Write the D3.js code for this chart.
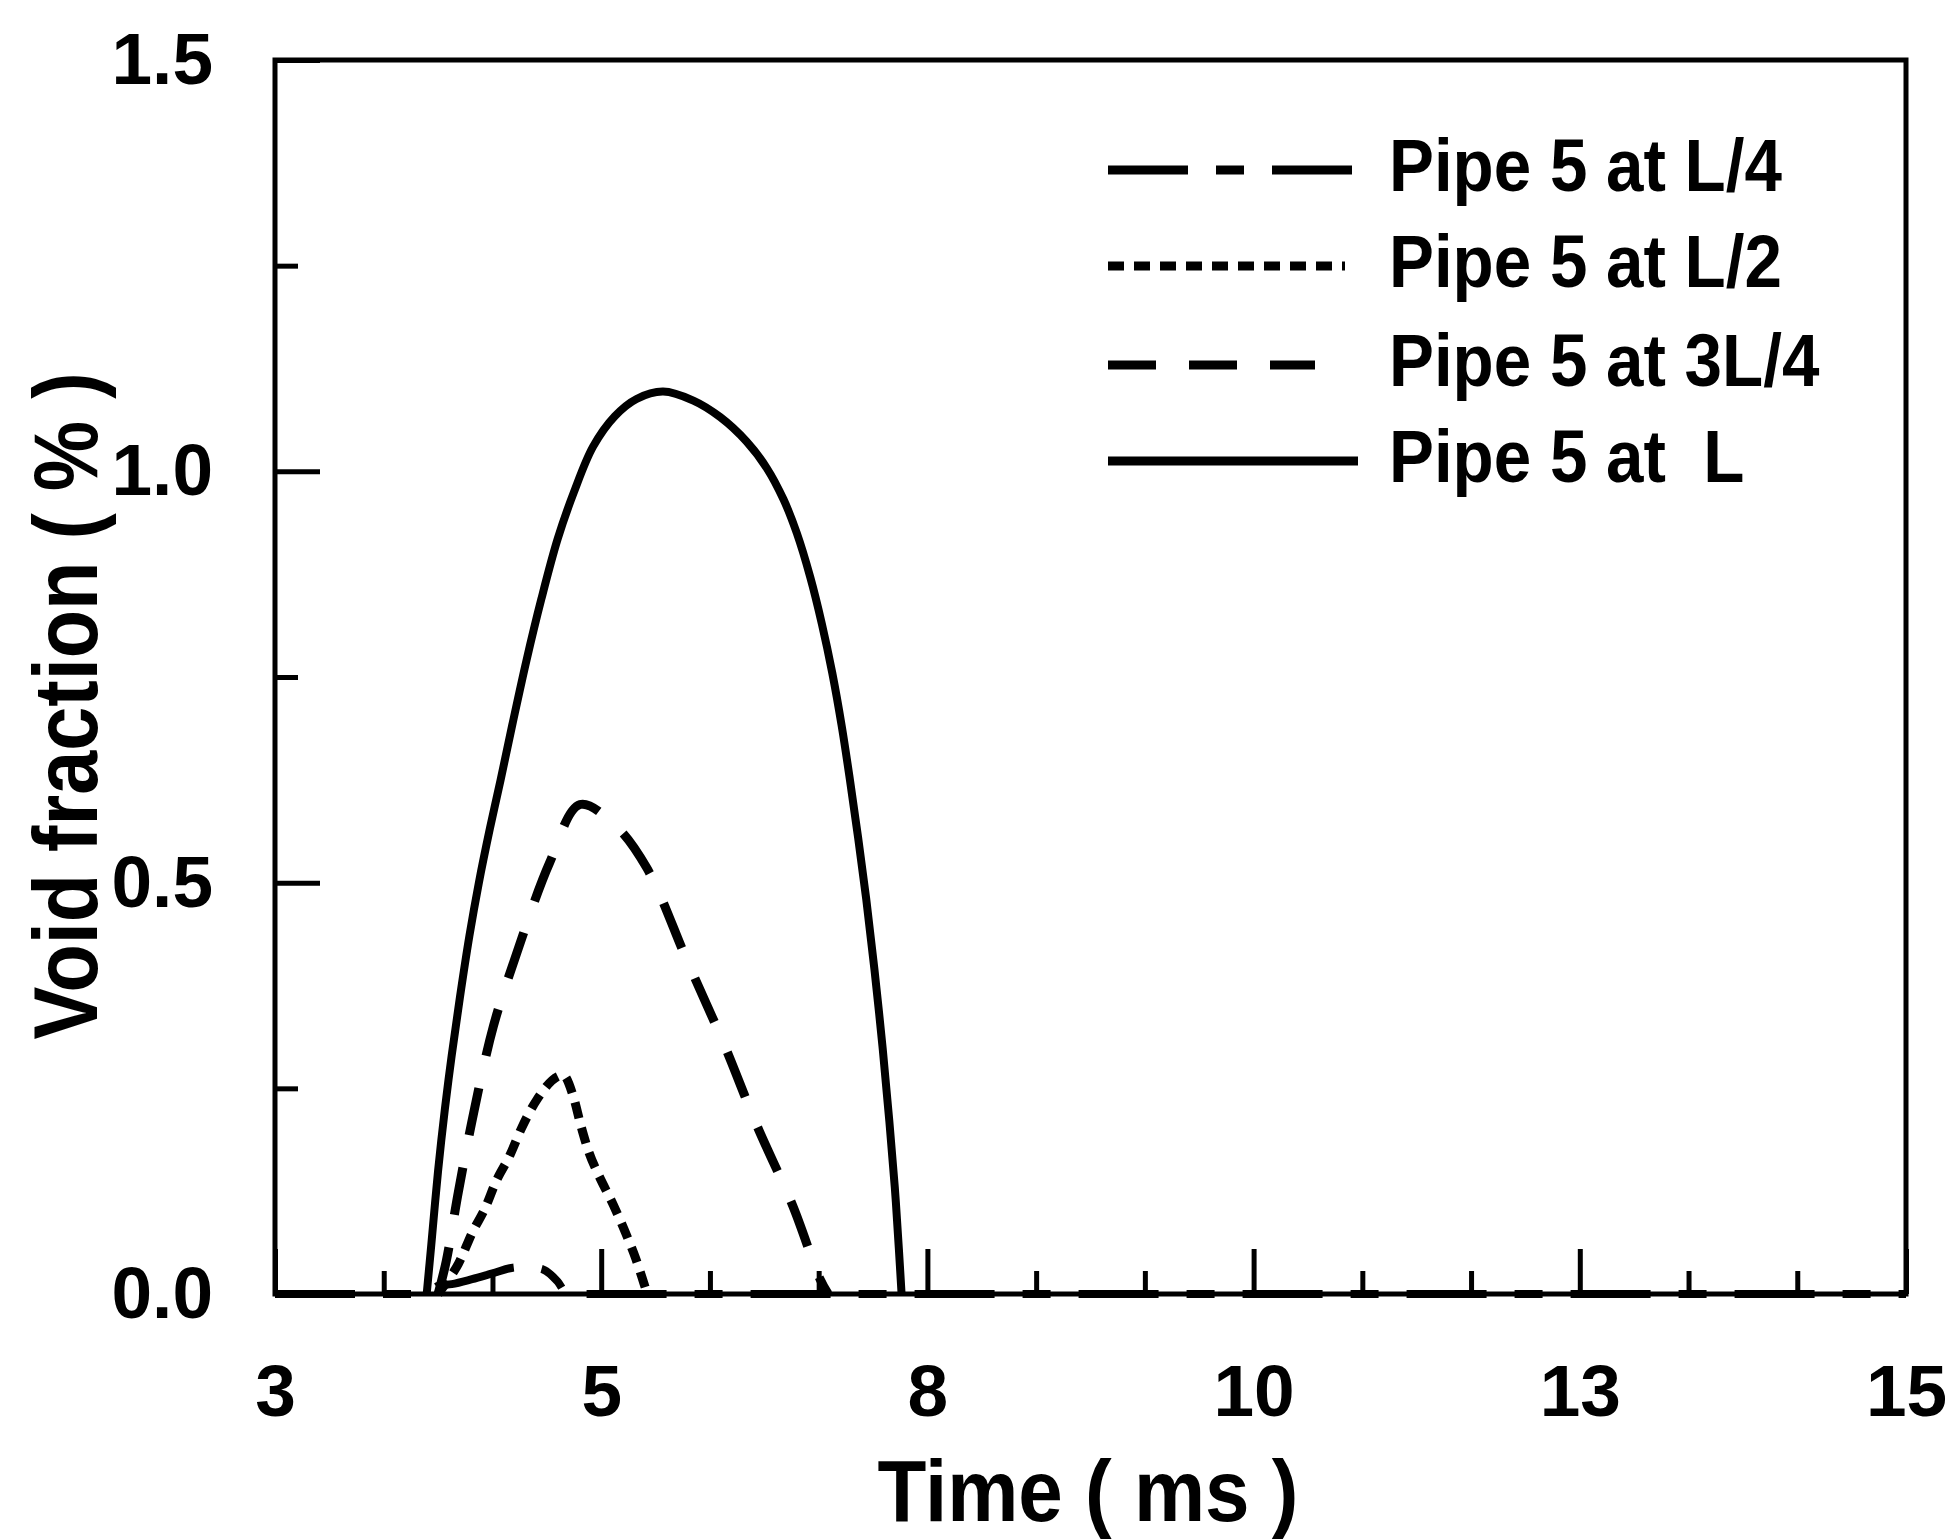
<!DOCTYPE html>
<html>
<head>
<meta charset="utf-8">
<script src="https://cdn.jsdelivr.net/npm/d3@7/dist/d3.min.js"></script>
<style>
  html, body { margin: 0; padding: 0; background: #fff; }
  svg { display: block; }
</style>
</head>
<body>
<svg id="chart" width="1957" height="1540"></svg>
<script>
// ---------------- data ----------------
const seriesNames = ["Pipe 5 at L/4", "Pipe 5 at L/2", "Pipe 5 at 3L/4", "Pipe 5 at  L"];

// [time (ms), void fraction (%)]
const pipeL4 = [
  [3.0, 0], [4.12, 0], [4.2, 0.01], [4.3, 0.012], [4.45, 0.018], [4.6, 0.025],
  [4.75, 0.032], [4.85, 0.033], [4.97, 0.03], [5.08, 0.015], [5.15, 0], [15.0, 0]
];
const pipeL2 = [
  [4.2, 0], [4.27, 0.016], [4.35, 0.037], [4.455, 0.076], [4.545, 0.104], [4.624, 0.136],
  [4.729, 0.169], [4.815, 0.202], [4.926, 0.236], [5.12, 0.266], [5.195, 0.24],
  [5.25, 0.205], [5.31, 0.172], [5.38, 0.145], [5.49, 0.108], [5.59, 0.07],
  [5.65, 0.045], [5.72, 0.01], [5.74, 0]
];
const pipe3L4 = [
  [4.2, 0], [4.26, 0.04], [4.349, 0.124], [4.464, 0.222], [4.606, 0.325], [4.778, 0.414],
  [5.02, 0.524], [5.244, 0.595], [5.5, 0.57], [5.735, 0.518], [6.03, 0.406],
  [6.3, 0.305], [6.545, 0.205], [6.81, 0.107], [7.01, 0.018], [7.07, 0]
];
const pipeL = [
  [4.116, 0], [4.15, 0.06], [4.2, 0.15], [4.25, 0.225], [4.3, 0.29], [4.36, 0.36],
  [4.43, 0.435], [4.5, 0.5], [4.58, 0.565], [4.66, 0.625], [4.75, 0.695],
  [4.85, 0.77], [4.96, 0.845], [5.08, 0.918], [5.2, 0.975], [5.34, 1.03],
  [5.5, 1.067], [5.66, 1.088], [5.855, 1.097], [6.078, 1.086], [6.275, 1.066],
  [6.471, 1.036], [6.618, 1.004], [6.741, 0.966], [6.839, 0.925], [6.937, 0.872],
  [7.023, 0.815], [7.1, 0.755], [7.17, 0.69], [7.23, 0.625], [7.29, 0.555],
  [7.35, 0.48], [7.41, 0.395], [7.47, 0.3], [7.52, 0.21], [7.56, 0.13],
  [7.59, 0.055], [7.61, 0]
];

const xMajorTicks = [3, 5.4, 7.8, 10.2, 12.6, 15];
const xTickLabels = ["3", "5", "8", "10", "13", "15"];
const xMinorTicks = [3.8, 4.6, 6.2, 7.0, 8.6, 9.4, 11.0, 11.8, 13.4, 14.2];
const yMajorTicks = [0, 0.5, 1.0, 1.5];
const yTickLabels = ["0.0", "0.5", "1.0", "1.5"];
const yMinorTicks = [0.25, 0.75, 1.25];

const xTitle = "Time ( ms )";
const yTitle = "Void fraction ( % )";

// ---------------- layout ----------------
const L = 275, R = 1906, T = 60, B = 1294;
const svg = d3.select("#chart");

const x = d3.scaleLinear().domain([3, 15]).range([L, R]);
const y = d3.scaleLinear().domain([0, 1.5]).range([B, T]);

const font = "'Liberation Sans', Arial, Helvetica, sans-serif";

// minor ticks
svg.append("g").attr("transform", `translate(0,${B})`)
  .call(d3.axisBottom(x).tickValues(xMinorTicks).tickSize(-23).tickSizeOuter(0).tickFormat(""))
  .call(g => g.select(".domain").remove())
  .call(g => g.selectAll("line").attr("stroke", "#000").attr("stroke-width", 5));
svg.append("g").attr("transform", `translate(${L},0)`)
  .call(d3.axisLeft(y).tickValues(yMinorTicks).tickSize(-23).tickSizeOuter(0).tickFormat(""))
  .call(g => g.select(".domain").remove())
  .call(g => g.selectAll("line").attr("stroke", "#000").attr("stroke-width", 5));

// major ticks + labels
svg.append("g").attr("transform", `translate(0,${B})`)
  .call(d3.axisBottom(x).tickValues(xMajorTicks).tickSize(-45).tickSizeOuter(0)
        .tickPadding(70).tickFormat((d, i) => xTickLabels[i]))
  .call(g => g.select(".domain").remove())
  .call(g => g.selectAll("line").attr("stroke", "#000").attr("stroke-width", 5))
  .call(g => g.selectAll("text").attr("fill", "#000")
        .style("font-family", font).style("font-weight", "bold")
        .style("font-size", "73px"));

svg.append("g").attr("transform", `translate(${L},0)`)
  .call(d3.axisLeft(y).tickValues(yMajorTicks).tickSize(-45).tickSizeOuter(0)
        .tickPadding(62).tickFormat((d, i) => yTickLabels[i]))
  .call(g => g.select(".domain").remove())
  .call(g => g.selectAll("line").attr("stroke", "#000").attr("stroke-width", 5))
  .call(g => g.selectAll("text").attr("fill", "#000")
        .style("font-family", font).style("font-weight", "bold")
        .style("font-size", "73px"));

// frame
svg.append("rect")
  .attr("x", L).attr("y", T).attr("width", R - L).attr("height", B - T)
  .attr("fill", "none").attr("stroke", "#000").attr("stroke-width", 5);

// ---------------- series ----------------
const styles = [
  { data: pipeL4, dash: "80,28,28,28", width: 8, legEnd: 1358, curve: d3.curveMonotoneX },
  { data: pipeL2, dash: "16,10", width: 9, legEnd: 1345, curve: d3.curveMonotoneX },
  { data: pipe3L4, dash: "48,33", width: 9, legEnd: 1315, curve: d3.curveCatmullRom.alpha(0.5) },
  { data: pipeL, dash: null, width: 8, legEnd: 1358, curve: d3.curveCatmullRom.alpha(0.5) }
];

svg.append("g").selectAll("path").data(styles).join("path")
  .attr("d", s => d3.line().x(d => x(d[0])).y(d => y(d[1])).curve(s.curve)(s.data))
  .attr("fill", "none").attr("stroke", "#000")
  .attr("stroke-width", s => s.width)
  .attr("stroke-dasharray", s => s.dash)
  .attr("stroke-linejoin", "round");

// ---------------- legend ----------------
const legendRowY = [170, 266, 365, 461];
const leg = svg.append("g");
styles.forEach((s, i) => {
  leg.append("line")
    .attr("x1", 1108).attr("x2", s.legEnd)
    .attr("y1", legendRowY[i]).attr("y2", legendRowY[i])
    .attr("stroke", "#000").attr("stroke-width", 9)
    .attr("stroke-dasharray", s.dash);
  leg.append("text")
    .attr("transform", `translate(1389,${legendRowY[i] + 21}) scale(0.91,1)`)
    .attr("fill", "#000")
    .style("font-family", font).style("font-weight", "bold")
    .style("font-size", "74px")
    .attr("xml:space", "preserve")
    .text(seriesNames[i]);
});

// ---------------- titles ----------------
svg.append("text")
  .attr("transform", `translate(1088,1521) scale(0.92,1)`)
  .attr("text-anchor", "middle").attr("fill", "#000")
  .style("font-family", font).style("font-weight", "bold")
  .style("font-size", "87px").attr("xml:space", "preserve")
  .text(xTitle);

svg.append("text")
  .attr("transform", `translate(97,706) rotate(-90) scale(0.87,1)`)
  .attr("text-anchor", "middle").attr("fill", "#000")
  .style("font-family", font).style("font-weight", "bold")
  .style("font-size", "91px").attr("xml:space", "preserve")
  .text(yTitle);
</script>
</body>
</html>
